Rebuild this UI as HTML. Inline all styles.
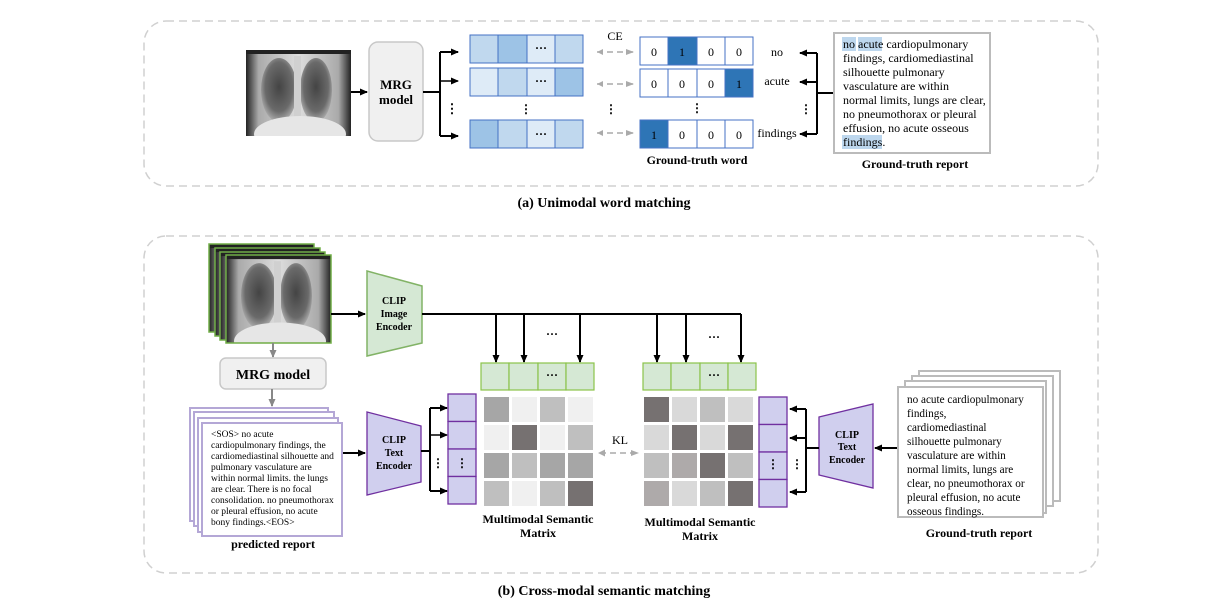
<!DOCTYPE html>
<html><head><meta charset="utf-8"><style>
html,body{margin:0;padding:0;background:#fff;}
svg{display:block;font-family:"Liberation Serif",serif;}
</style></head><body>
<svg width="1210" height="608" viewBox="0 0 1210 608" xmlns="http://www.w3.org/2000/svg">
<defs>
<marker id="ab" markerWidth="8" markerHeight="8" refX="7" refY="4" orient="auto" markerUnits="userSpaceOnUse"><path d="M0,0.5 L8,4 L0,7.5 Z" fill="#000"/></marker>
<marker id="ag" markerWidth="8" markerHeight="8" refX="7" refY="4" orient="auto" markerUnits="userSpaceOnUse"><path d="M0,0.5 L8,4 L0,7.5 Z" fill="#888"/></marker>
<marker id="agl" markerWidth="8" markerHeight="8" refX="7" refY="4" orient="auto" markerUnits="userSpaceOnUse"><path d="M0,1 L8,4 L0,7 Z" fill="#aaa"/></marker>
<radialGradient id="lung" cx="0.5" cy="0.45" r="0.55"><stop offset="0" stop-color="#444"/><stop offset="0.7" stop-color="#6a6a6a"/><stop offset="1" stop-color="#aaa"/></radialGradient>
<linearGradient id="base" x1="0" y1="0" x2="1" y2="0"><stop offset="0" stop-color="#222"/><stop offset="0.12" stop-color="#aaa"/><stop offset="0.5" stop-color="#ddd"/><stop offset="0.88" stop-color="#aaa"/><stop offset="1" stop-color="#222"/></linearGradient>
<symbol id="xr" viewBox="0 0 105 86" preserveAspectRatio="none">
<g stroke="none">
<rect width="105" height="86" fill="url(#base)"/>
<rect width="105" height="4" fill="#222"/>
<ellipse cx="33" cy="40" rx="18" ry="32" fill="url(#lung)"/>
<ellipse cx="70" cy="40" rx="16" ry="32" fill="url(#lung)"/>
<rect x="48" y="6" width="7" height="62" fill="#d0d0d0"/>
<ellipse cx="54" cy="84" rx="46" ry="18" fill="#e6e6e6"/>
</g>
</symbol>
</defs>

<!-- panel a -->
<rect x="144" y="21" width="954" height="165" rx="22" fill="none" stroke="#d0d0d0" stroke-width="1.5" stroke-dasharray="8,5"/>
<use href="#xr" x="246" y="50" width="105" height="86"/>
<line x1="351" y1="92" x2="367" y2="92" stroke="#000" stroke-width="2" marker-end="url(#ab)"/>
<rect x="369" y="42" width="54" height="99" rx="9" fill="#f0f0f0" stroke="#c8c8c8" stroke-width="1.5"/>
<text x="396" y="89" font-size="13" font-weight="bold" text-anchor="middle">MRG</text>
<text x="396" y="104" font-size="13" font-weight="bold" text-anchor="middle">model</text>
<path d="M423,92 H440 M440,52 V136" stroke="#000" stroke-width="2" fill="none"/>
<line x1="440" y1="52" x2="458" y2="52" stroke="#000" stroke-width="2" marker-end="url(#ab)"/>
<line x1="440" y1="81" x2="458" y2="81" stroke="#000" stroke-width="1.5" marker-end="url(#ab)"/>
<line x1="440" y1="136" x2="458" y2="136" stroke="#000" stroke-width="2" marker-end="url(#ab)"/>
<text x="452" y="113" font-size="13" font-weight="bold" text-anchor="middle">⋮</text>

<g stroke="#4472c4" stroke-width="1">
<rect x="470" y="35" width="28" height="28" fill="#c0d8ee"/><rect x="498" y="35" width="29" height="28" fill="#9dc3e6"/><rect x="527" y="35" width="28" height="28" fill="#deebf7"/><rect x="555" y="35" width="28" height="28" fill="#c0d8ee"/>
<rect x="470" y="68" width="28" height="28" fill="#deebf7"/><rect x="498" y="68" width="29" height="28" fill="#c0d8ee"/><rect x="527" y="68" width="28" height="28" fill="#deebf7"/><rect x="555" y="68" width="28" height="28" fill="#9dc3e6"/>
<rect x="470" y="120" width="28" height="28" fill="#9dc3e6"/><rect x="498" y="120" width="29" height="28" fill="#c0d8ee"/><rect x="527" y="120" width="28" height="28" fill="#deebf7"/><rect x="555" y="120" width="28" height="28" fill="#c0d8ee"/>
</g>
<g font-size="12" font-weight="bold" text-anchor="middle">
<text x="541" y="52">···</text><text x="541" y="85">···</text><text x="541" y="138">···</text>
<text x="526" y="113">⋮</text><text x="611" y="113">⋮</text>
</g>
<text x="615" y="40" font-size="12" text-anchor="middle">CE</text>
<g stroke="#aaa" stroke-width="1.5" stroke-dasharray="6,4" fill="none">
<path d="M597,52 H633" marker-end="url(#agl)"/>
<path d="M597,84 H633" marker-end="url(#agl)"/>
<path d="M597,133 H633" marker-end="url(#agl)"/>
</g>
<path d="M597,84 l6,-3 v6 z M597,133 l6,-3 v6 z M597,52 l6,-3 v6z" fill="#aaa"/>

<g stroke="#4472c4" stroke-width="1">
<rect x="640" y="37" width="28" height="28" fill="#fff"/><rect x="668" y="37" width="29" height="28" fill="#2e75b6"/><rect x="697" y="37" width="28" height="28" fill="#fff"/><rect x="725" y="37" width="28" height="28" fill="#fff"/>
<rect x="640" y="69" width="28" height="28" fill="#fff"/><rect x="668" y="69" width="29" height="28" fill="#fff"/><rect x="697" y="69" width="28" height="28" fill="#fff"/><rect x="725" y="69" width="28" height="28" fill="#2e75b6"/>
<rect x="640" y="120" width="28" height="28" fill="#2e75b6"/><rect x="668" y="120" width="29" height="28" fill="#fff"/><rect x="697" y="120" width="28" height="28" fill="#fff"/><rect x="725" y="120" width="28" height="28" fill="#fff"/>
</g>
<g font-size="12" text-anchor="middle">
<text x="654" y="56">0</text><text x="682" y="56">1</text><text x="711" y="56">0</text><text x="739" y="56">0</text>
<text x="654" y="88">0</text><text x="682" y="88">0</text><text x="711" y="88">0</text><text x="739" y="88">1</text>
<text x="654" y="139">1</text><text x="682" y="139">0</text><text x="711" y="139">0</text><text x="739" y="139">0</text>
<text x="697" y="112" font-weight="bold">⋮</text>
<text x="777" y="56">no</text><text x="777" y="85">acute</text><text x="777" y="137">findings</text>
<text x="806" y="113" font-weight="bold">⋮</text>
</g>
<path d="M817,53 V134 M817,93 H834" stroke="#000" stroke-width="2" fill="none"/>
<line x1="817" y1="53" x2="800" y2="53" stroke="#000" stroke-width="2" marker-end="url(#ab)"/>
<line x1="817" y1="82" x2="800" y2="82" stroke="#000" stroke-width="2" marker-end="url(#ab)"/>
<line x1="817" y1="134" x2="800" y2="134" stroke="#000" stroke-width="2" marker-end="url(#ab)"/>
<text x="697" y="164" font-size="12" font-weight="bold" text-anchor="middle">Ground-truth word</text>

<rect x="834" y="33" width="156" height="120" fill="#fff" stroke="#bbb" stroke-width="2"/>
<rect x="842" y="37" width="14" height="14" fill="#bdd7ee"/><rect x="858" y="37" width="24" height="14" fill="#bdd7ee"/><rect x="842" y="135" width="40" height="14" fill="#bdd7ee"/>
<g font-size="12">
<text x="843" y="48">no acute cardiopulmonary</text>
<text x="843" y="62">findings, cardiomediastinal</text>
<text x="843" y="76">silhouette pulmonary</text>
<text x="843" y="90">vasculature are within</text>
<text x="843" y="104">normal limits, lungs are clear,</text>
<text x="843" y="118">no pneumothorax or pleural</text>
<text x="843" y="132">effusion, no acute osseous</text>
<text x="843" y="146">findings.</text>
</g>
<text x="915" y="168" font-size="12" font-weight="bold" text-anchor="middle">Ground-truth report</text>
<text x="604" y="207" font-size="14" font-weight="bold" text-anchor="middle">(a) Unimodal word matching</text>

<!-- panel b -->
<rect x="144" y="236" width="954" height="337" rx="22" fill="none" stroke="#d0d0d0" stroke-width="1.5" stroke-dasharray="8,5"/>
<use href="#xr" x="209" y="244" width="105" height="88"/><rect x="209" y="244" width="105" height="88" fill="none" stroke="#70ad47" stroke-width="1.5"/>
<use href="#xr" x="215" y="248" width="105" height="88"/><rect x="215" y="248" width="105" height="88" fill="none" stroke="#70ad47" stroke-width="1.5"/>
<use href="#xr" x="220" y="252" width="105" height="88"/><rect x="220" y="252" width="105" height="88" fill="none" stroke="#70ad47" stroke-width="1.5"/>
<use href="#xr" x="226" y="255" width="105" height="88"/><rect x="226" y="255" width="105" height="88" fill="none" stroke="#70ad47" stroke-width="1.5"/>
<line x1="273" y1="343" x2="273" y2="357" stroke="#888" stroke-width="2" marker-end="url(#ag)"/>
<rect x="220" y="358" width="106" height="31" rx="6" fill="#f0f0f0" stroke="#c8c8c8" stroke-width="1.5"/>
<text x="273" y="379" font-size="14" font-weight="bold" text-anchor="middle">MRG model</text>
<line x1="272" y1="389" x2="272" y2="406" stroke="#888" stroke-width="2" marker-end="url(#ag)"/>

<g stroke="#b4a7d6" stroke-width="2" fill="#fff">
<rect x="190" y="408" width="138" height="113"/><rect x="194" y="412" width="140" height="114"/><rect x="198" y="418" width="140" height="114"/><rect x="202" y="423" width="140" height="113"/>
</g>
<g font-size="9.5">
<text x="211" y="437">&lt;SOS&gt;  no acute</text>
<text x="211" y="448">cardiopulmonary findings, the</text>
<text x="211" y="459">cardiomediastinal silhouette and</text>
<text x="211" y="470">pulmonary vasculature are</text>
<text x="211" y="481">within normal limits. the lungs</text>
<text x="211" y="492">are clear. There is no focal</text>
<text x="211" y="503">consolidation. no pneumothorax</text>
<text x="211" y="514">or pleural effusion, no acute</text>
<text x="211" y="525">bony findings.&lt;EOS&gt;</text>
</g>
<text x="273" y="548" font-size="12" font-weight="bold" text-anchor="middle">predicted report</text>

<line x1="331" y1="314" x2="365" y2="314" stroke="#000" stroke-width="2" marker-end="url(#ab)"/>
<polygon points="367,271 422,286 422,343 367,356" fill="#d5e8d4" stroke="#82b366" stroke-width="1.5"/>
<g font-size="10" font-weight="bold" text-anchor="middle"><text x="394" y="304">CLIP</text><text x="394" y="317">Image</text><text x="394" y="330">Encoder</text></g>
<path d="M422,314 H741" stroke="#000" stroke-width="2"/>
<g stroke="#000" stroke-width="2" marker-end="url(#ab)">
<line x1="496" y1="314" x2="496" y2="362"/><line x1="524" y1="314" x2="524" y2="362"/><line x1="580" y1="314" x2="580" y2="362"/>
<line x1="657" y1="314" x2="657" y2="362"/><line x1="686" y1="314" x2="686" y2="362"/><line x1="741" y1="314" x2="741" y2="362"/>
</g>
<g font-size="12" font-weight="bold" text-anchor="middle"><text x="552" y="338">···</text><text x="714" y="341">···</text></g>

<g stroke="#8bc34a" stroke-width="1.2" fill="#d5e8d4">
<rect x="481" y="363" width="28" height="27"/><rect x="509" y="363" width="29" height="27"/><rect x="538" y="363" width="28" height="27"/><rect x="566" y="363" width="28" height="27"/>
<rect x="643" y="363" width="28" height="27"/><rect x="671" y="363" width="29" height="27"/><rect x="700" y="363" width="28" height="27"/><rect x="728" y="363" width="28" height="27"/>
</g>
<g font-size="12" font-weight="bold" text-anchor="middle"><text x="552" y="379">···</text><text x="714" y="379">···</text></g>

<g>
<rect x="484" y="397" width="25" height="25" fill="#a6a6a6"/><rect x="512" y="397" width="25" height="25" fill="#f0f0f0"/><rect x="540" y="397" width="25" height="25" fill="#bfbfbf"/><rect x="568" y="397" width="25" height="25" fill="#f0f0f0"/>
<rect x="484" y="425" width="25" height="25" fill="#f0f0f0"/><rect x="512" y="425" width="25" height="25" fill="#767171"/><rect x="540" y="425" width="25" height="25" fill="#f0f0f0"/><rect x="568" y="425" width="25" height="25" fill="#bfbfbf"/>
<rect x="484" y="453" width="25" height="25" fill="#a6a6a6"/><rect x="512" y="453" width="25" height="25" fill="#bfbfbf"/><rect x="540" y="453" width="25" height="25" fill="#a6a6a6"/><rect x="568" y="453" width="25" height="25" fill="#a6a6a6"/>
<rect x="484" y="481" width="25" height="25" fill="#bfbfbf"/><rect x="512" y="481" width="25" height="25" fill="#f0f0f0"/><rect x="540" y="481" width="25" height="25" fill="#bfbfbf"/><rect x="568" y="481" width="25" height="25" fill="#767171"/>

<rect x="644" y="397" width="25" height="25" fill="#767171"/><rect x="672" y="397" width="25" height="25" fill="#d9d9d9"/><rect x="700" y="397" width="25" height="25" fill="#bfbfbf"/><rect x="728" y="397" width="25" height="25" fill="#d9d9d9"/>
<rect x="644" y="425" width="25" height="25" fill="#d9d9d9"/><rect x="672" y="425" width="25" height="25" fill="#767171"/><rect x="700" y="425" width="25" height="25" fill="#d9d9d9"/><rect x="728" y="425" width="25" height="25" fill="#767171"/>
<rect x="644" y="453" width="25" height="25" fill="#bfbfbf"/><rect x="672" y="453" width="25" height="25" fill="#aeaaaa"/><rect x="700" y="453" width="25" height="25" fill="#767171"/><rect x="728" y="453" width="25" height="25" fill="#bfbfbf"/>
<rect x="644" y="481" width="25" height="25" fill="#aeaaaa"/><rect x="672" y="481" width="25" height="25" fill="#d9d9d9"/><rect x="700" y="481" width="25" height="25" fill="#bfbfbf"/><rect x="728" y="481" width="25" height="25" fill="#767171"/>
</g>

<g stroke="#7030a0" stroke-width="1.3" fill="#d0cfee">
<rect x="448" y="394" width="28" height="27.5"/><rect x="448" y="421.5" width="28" height="27.5"/><rect x="448" y="449" width="28" height="27.5"/><rect x="448" y="476.5" width="28" height="27.5"/>
<rect x="759" y="397" width="28" height="27.5"/><rect x="759" y="424.5" width="28" height="27.5"/><rect x="759" y="452" width="28" height="27.5"/><rect x="759" y="479.5" width="28" height="27.5"/>
</g>
<g font-size="12" font-weight="bold" text-anchor="middle">
<text x="462" y="467">⋮</text><text x="438" y="467">⋮</text><text x="773" y="468">⋮</text><text x="797" y="468">⋮</text>
</g>

<line x1="343" y1="453" x2="365" y2="453" stroke="#000" stroke-width="2" marker-end="url(#ab)"/>
<polygon points="367,412 421,426 421,482 367,495" fill="#d0cfee" stroke="#7030a0" stroke-width="1.3"/>
<g font-size="10" font-weight="bold" text-anchor="middle"><text x="394" y="443">CLIP</text><text x="394" y="456">Text</text><text x="394" y="469">Encoder</text></g>
<path d="M421,451 H430 M430,408 V491" stroke="#000" stroke-width="2" fill="none"/>
<g stroke="#000" stroke-width="2" marker-end="url(#ab)">
<line x1="430" y1="408" x2="447" y2="408"/><line x1="430" y1="435" x2="447" y2="435" stroke-width="1.5"/><line x1="430" y1="491" x2="447" y2="491"/>
</g>

<text x="620" y="444" font-size="12" text-anchor="middle">KL</text>
<path d="M600,453 H638" stroke="#aaa" stroke-width="1.5" stroke-dasharray="6,4" marker-end="url(#agl)"/>
<path d="M598,453 l7,-3.5 v7 z" fill="#aaa"/>

<polygon points="819,417 873,404 873,488 819,475" fill="#d0cfee" stroke="#7030a0" stroke-width="1.3"/>
<g font-size="10" font-weight="bold" text-anchor="middle"><text x="847" y="438">CLIP</text><text x="847" y="450">Text</text><text x="847" y="463">Encoder</text></g>
<path d="M819,448 H806 M806,409 V492" stroke="#000" stroke-width="2" fill="none"/>
<g stroke="#000" stroke-width="2" marker-end="url(#ab)">
<line x1="806" y1="409" x2="790" y2="409"/><line x1="806" y1="438" x2="790" y2="438"/><line x1="806" y1="492" x2="790" y2="492"/>
</g>
<line x1="898" y1="448" x2="875" y2="448" stroke="#000" stroke-width="2" marker-end="url(#ab)"/>

<g stroke="#bbb" stroke-width="2" fill="#fff">
<rect x="919" y="371" width="141" height="130"/><rect x="912" y="376" width="141" height="130"/><rect x="905" y="381" width="141" height="132"/><rect x="898" y="387" width="145" height="130"/>
</g>
<g font-size="11.2">
<text x="907" y="403">no acute cardiopulmonary</text>
<text x="907" y="417">findings,</text>
<text x="907" y="431">cardiomediastinal</text>
<text x="907" y="445">silhouette pulmonary</text>
<text x="907" y="459">vasculature are within</text>
<text x="907" y="473">normal limits, lungs are</text>
<text x="907" y="487">clear, no pneumothorax or</text>
<text x="907" y="501">pleural effusion, no acute</text>
<text x="907" y="515">osseous findings.</text>
</g>
<text x="979" y="537" font-size="12" font-weight="bold" text-anchor="middle">Ground-truth report</text>

<g font-size="12" font-weight="bold" text-anchor="middle">
<text x="538" y="523">Multimodal Semantic</text><text x="538" y="537">Matrix</text>
<text x="700" y="526">Multimodal Semantic</text><text x="700" y="540">Matrix</text>
</g>
<text x="604" y="595" font-size="14" font-weight="bold" text-anchor="middle">(b) Cross-modal semantic matching</text>
</svg>
</body></html>
